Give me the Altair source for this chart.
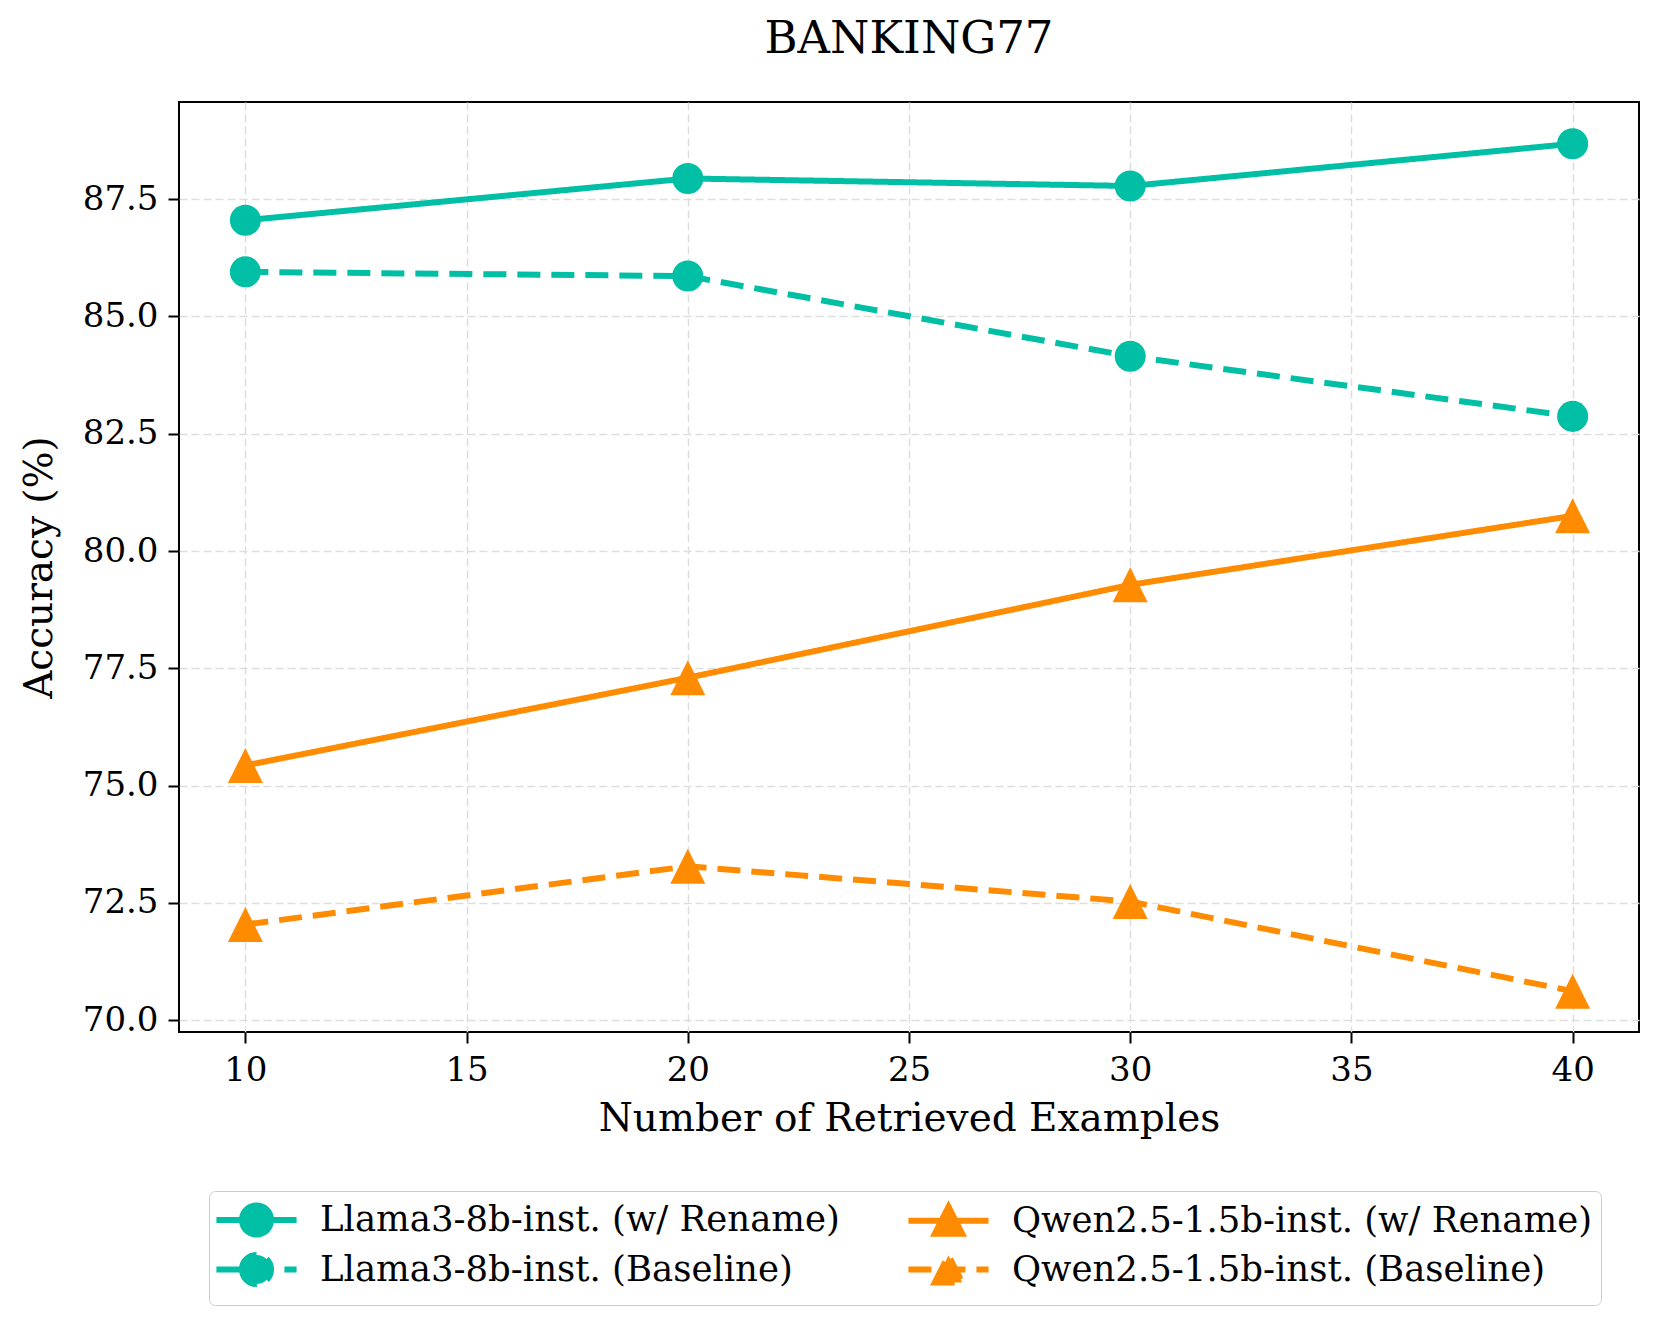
import altair as alt
import pandas as pd

# ---- data ----
x_vals = [10, 20, 30, 40]
llama_rename = [87.05, 87.94, 87.78, 88.68]
llama_base = [85.95, 85.86, 84.15, 82.87]
qwen_rename = [75.43, 77.30, 79.28, 80.75]
qwen_base = [72.04, 73.28, 72.53, 70.62]

S_LR = "Llama3-8b-inst. (w/ Rename)"
S_LB = "Llama3-8b-inst. (Baseline)"
S_QR = "Qwen2.5-1.5b-inst. (w/ Rename)"
S_QB = "Qwen2.5-1.5b-inst. (Baseline)"

TEAL = "#00BFA5"
ORANGE = "#FF8C00"

order = [S_LR, S_LB, S_QR, S_QB]
colors = [TEAL, TEAL, ORANGE, ORANGE]
dashes = [[1, 0], [23, 11], [1, 0], [23, 11]]

CIRCLE_LINE = "M -2.29 0 L 2.29 0 M -0.83 0 A 0.83 0.83 0 1 0 0.83 0 A 0.83 0.83 0 1 0 -0.83 0 Z"
TRI_LINE = "M -2.29 0 L 2.29 0 M -0.78 0.74 L 0 -0.8 L 0.78 0.74 Z"
TRI = "M -1 1 L 0 -1 L 1 1 Z"
legend_shapes = [CIRCLE_LINE, CIRCLE_LINE, TRI_LINE, TRI_LINE]

rows = []
for name, vals in [(S_LR, llama_rename), (S_LB, llama_base), (S_QR, qwen_rename), (S_QB, qwen_base)]:
    for xv, yv in zip(x_vals, vals):
        rows.append({"x": xv, "y": yv, "series": name, "model": name.split("-")[0]})
df = pd.DataFrame(rows)

FONT = "DejaVu Serif"

xenc = alt.X("x:Q", scale=alt.Scale(domain=[8.5, 41.5], nice=False, zero=False),
             axis=alt.Axis(title="Number of Retrieved Examples", values=[10, 15, 20, 25, 30, 35, 40],
                           format="d", titlePadding=12))
yenc = alt.Y("y:Q", scale=alt.Scale(domain=[69.75, 89.57], nice=False, zero=False),
             axis=alt.Axis(title="Accuracy (%)", values=[70, 72.5, 75, 77.5, 80, 82.5, 85, 87.5],
                           format=".1f", titlePadding=23))

stroke_scale = alt.Scale(domain=order, range=colors)
dash_scale = alt.Scale(domain=order, range=dashes)
shape_scale = alt.Scale(domain=order, range=legend_shapes)

legend_def = dict(title=None, orient="none", legendX=30, legendY=1089, columns=2)

base = alt.Chart(df)

# legend-only layer (no rows drawn); listed first so its legend settings win
legend_layer = base.transform_filter(alt.datum.x < 0).mark_point(
    filled=True, opacity=1, strokeWidth=6
).encode(
    x=xenc, y=yenc,
    fill=alt.Fill("series:N", scale=stroke_scale, legend=alt.Legend(**legend_def)),
    stroke=alt.Stroke("series:N", scale=stroke_scale, legend=alt.Legend(**legend_def)),
    shape=alt.Shape("series:N", scale=shape_scale, legend=alt.Legend(**legend_def)),
    strokeDash=alt.StrokeDash("series:N", scale=dash_scale, legend=alt.Legend(**legend_def)),
)

lines = base.mark_line(strokeWidth=6).encode(
    x=xenc, y=yenc,
    stroke=alt.Stroke("series:N", scale=stroke_scale, legend=alt.Legend(**legend_def)),
    strokeDash=alt.StrokeDash("series:N", scale=dash_scale, legend=alt.Legend(**legend_def)),
    detail="series:N",
)

circles = base.transform_filter(alt.datum.model == "Llama3").mark_point(
    filled=True, shape="circle", size=962, opacity=1
).encode(
    x=xenc, y=yenc,
    fill=alt.Fill("series:N", scale=stroke_scale, legend=alt.Legend(**legend_def)),
)

triangles = base.transform_filter(alt.datum.model == "Qwen2.5").mark_point(
    filled=True, shape=TRI, size=1225, opacity=1
).encode(
    x=xenc, y=yenc,
    fill=alt.Fill("series:N", scale=stroke_scale, legend=alt.Legend(**legend_def)),
)

chart = alt.layer(legend_layer, lines, circles, triangles).properties(
    width=1460, height=930,
    title=alt.TitleParams("BANKING77", font=FONT, fontSize=45, fontWeight="normal",
                          color="black", offset=40, anchor="middle"),
    padding={"left": 12, "top": 9, "right": 10, "bottom": 10},
).configure_view(
    stroke="black", strokeWidth=2
).configure_axis(
    labelFont=FONT, labelFontSize=34, labelColor="black",
    titleFont=FONT, titleFontSize=39, titleFontWeight="normal", titleColor="black",
    domain=False, tickColor="black", tickWidth=2, tickSize=11, labelPadding=10,
    grid=True, gridColor="#dddddd", gridDash=[8, 4], gridWidth=1.5,
).configure_legend(
    labelFont=FONT, labelFontSize=35.5, labelColor="black",
    titleFontSize=0, titlePadding=0,
    padding=8, strokeColor="#cccccc", cornerRadius=6, fillColor="white",
    symbolSize=1225, symbolStrokeWidth=6, symbolOffset=19, labelOffset=43,
    rowPadding=-5, columnPadding=56, labelLimit=1000,
)

chart.save("out.html", embed_options={"renderer": "svg", "actions": False})
